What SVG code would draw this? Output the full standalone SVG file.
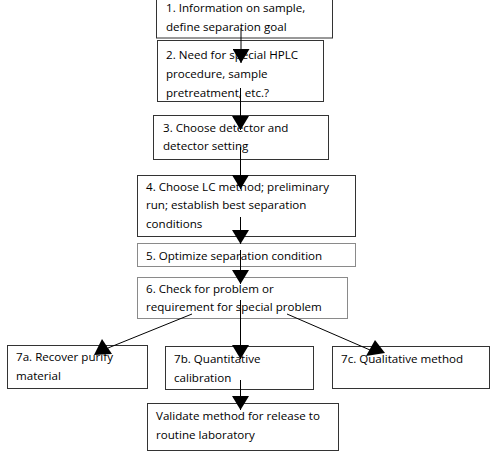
<svg xmlns="http://www.w3.org/2000/svg" width="500" height="456" viewBox="0 0 500 456">
<style>
  .box { fill: #ffffff; stroke: #333333; stroke-width: 1; }
  .gray { stroke: #8a8a8a; }
  .t { font-family: "Open Sans", "Liberation Sans", sans-serif; font-size: 11.6px; fill: #000000; }
  .c { stroke: #000000; stroke-width: 1; fill: none; }
  .h { fill: #000000; stroke: none; }
</style>
<defs>
  <marker id="arr" markerUnits="userSpaceOnUse" viewBox="0 0 14 17" markerWidth="14" markerHeight="17" refX="14" refY="8.5" orient="auto">
    <path d="M0,0 L14,8.5 L0,17 z" fill="#000000"/>
  </marker>
</defs>
<rect width="500" height="456" fill="#ffffff"/>

<g id="n1"><rect class="box" x="156.5" y="-1" width="176" height="39"/>
<text class="t" x="166" y="12">1. Information on sample,</text>
<text class="t" x="166" y="31">define separation goal</text></g>

<g id="n2"><rect class="box" x="157.5" y="40.5" width="166" height="61"/>
<text class="t" x="166" y="59">2. Need for special HPLC</text>
<text class="t" x="166" y="78">procedure, sample</text>
<text class="t" x="166" y="97">pretreatment, etc.?</text></g>

<g id="n3"><rect class="box" x="153.5" y="115.5" width="175" height="44"/>
<text class="t" x="163" y="132">3. Choose detector and</text>
<text class="t" x="163" y="150">detector setting</text></g>

<g id="n4"><rect class="box" x="137.5" y="175.5" width="218" height="61"/>
<text class="t" x="146" y="191">4. Choose LC method; preliminary</text>
<text class="t" x="146" y="209">run; establish best separation</text>
<text class="t" x="146" y="228">conditions</text></g>

<g id="n5"><rect class="box gray" x="137.5" y="243.5" width="218" height="23"/>
<text class="t" x="146" y="260">5. Optimize separation condition</text></g>

<g id="n6"><rect class="box gray" x="137.5" y="277.5" width="210" height="41"/>
<text class="t" x="146" y="293">6. Check for problem or</text>
<text class="t" x="146" y="311">requirement for special problem</text></g>

<g id="n7a"><rect class="box" x="7.5" y="345.5" width="140" height="43"/>
<text class="t" x="16" y="361">7a. Recover purify</text>
<text class="t" x="16" y="380">material</text></g>

<g id="n7b"><rect class="box" x="165.5" y="346.5" width="148" height="43"/>
<text class="t" x="174" y="363">7b. Quantitative</text>
<text class="t" x="174" y="382">calibration</text></g>

<g id="n7c"><rect class="box" x="332.5" y="346.5" width="157" height="42"/>
<text class="t" x="341" y="363">7c. Qualitative method</text></g>

<g id="n8"><rect class="box" x="147.5" y="403.5" width="191" height="47"/>
<text class="t" x="156" y="420">Validate method for release to</text>
<text class="t" x="156" y="439">routine laboratory</text></g>

<g id="connectors">
  <line class="c" x1="241" y1="28" x2="241" y2="63" marker-end="url(#arr)"/>
  <line class="c" x1="240.5" y1="88" x2="240.5" y2="130" marker-end="url(#arr)"/>
  <line class="c" x1="240.5" y1="147" x2="240.5" y2="189" marker-end="url(#arr)"/>
  <line class="c" x1="240.5" y1="217" x2="240.5" y2="244" marker-end="url(#arr)"/>
  <line class="c" x1="240.5" y1="250" x2="240.5" y2="284" marker-end="url(#arr)"/>
  <line class="c" x1="240.5" y1="300" x2="240.5" y2="359" marker-end="url(#arr)"/>
  <line class="c" x1="240.5" y1="380" x2="240.5" y2="410" marker-end="url(#arr)"/>
  <line class="c" x1="192" y1="314" x2="108" y2="348"/>
  <polygon class="h" points="102,339 94,355 112,354"/>
  <line class="c" x1="287" y1="314" x2="370" y2="350"/>
  <polygon class="h" points="375,340 366,356 385,353"/>
</g>
</svg>
